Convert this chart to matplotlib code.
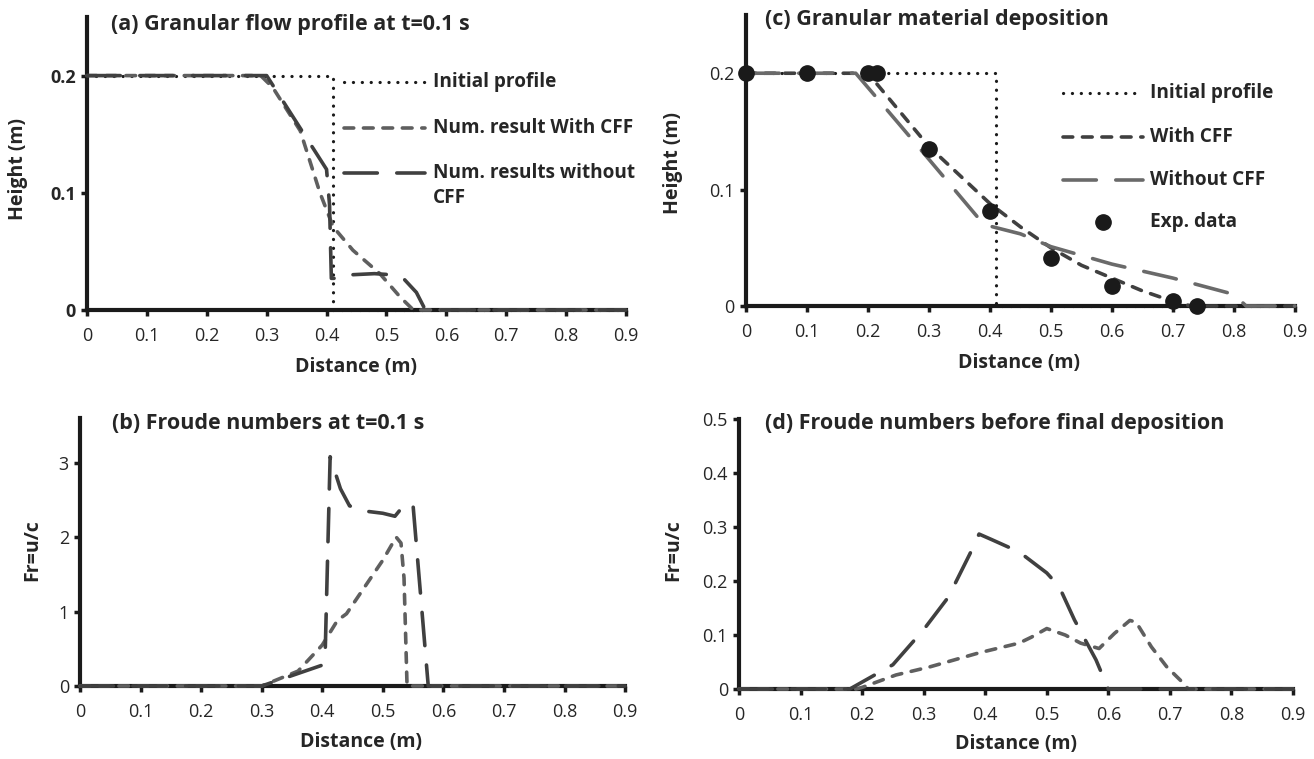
import matplotlib
matplotlib.use('Agg')
import matplotlib.pyplot as plt

plt.rcParams['font.family'] = ['Open Sans', 'DejaVu Sans']
plt.rcParams['lines.scale_dashes'] = False

# ---- (a) profil à t=0.1 s
a_init_x = [0, 0.41, 0.41, 0.9]
a_init_y = [0.2, 0.2, 0, 0]
a_cff_x = [0, 0.29, 0.31, 0.356, 0.389, 0.411, 0.444, 0.489, 0.523, 0.545, 0.9]
a_cff_y = [0.2, 0.2, 0.19, 0.153, 0.1, 0.071, 0.051, 0.031, 0.011, 0, 0]
a_nocff_x = [0, 0.30, 0.40, 0.405, 0.408, 0.42, 0.44, 0.48, 0.51, 0.53, 0.55, 0.565, 0.9]
a_nocff_y = [0.2, 0.2, 0.12, 0.09, 0.027, 0.027, 0.030, 0.031, 0.030, 0.026, 0.015, 0, 0]

# ---- (b) Froude à t=0.1 s
b_cff_x = [0, 0.30, 0.36, 0.40, 0.425, 0.44, 0.47, 0.50, 0.522, 0.53, 0.535, 0.54, 0.9]
b_cff_y = [0, 0, 0.2, 0.55, 0.88, 0.97, 1.33, 1.69, 2.0, 1.92, 1.45, 0, 0]
b_nocff_x = [0, 0.30, 0.40, 0.405, 0.413, 0.43, 0.445, 0.47, 0.50, 0.52, 0.53, 0.54, 0.55, 0.575, 0.9]
b_nocff_y = [0, 0, 0.28, 0.5, 3.08, 2.65, 2.42, 2.35, 2.32, 2.28, 2.38, 2.34, 2.42, 0, 0]

# ---- (c) dépôt final
c_init_x = [0, 0.41, 0.41, 0.9]
c_init_y = [0.2, 0.2, 0, 0]
c_cff_x = [0, 0.2, 0.3, 0.4, 0.45, 0.5, 0.55, 0.6, 0.65, 0.7, 0.73, 0.9]
c_cff_y = [0.2, 0.2, 0.137, 0.088, 0.068, 0.05, 0.035, 0.024, 0.013, 0.004, 0, 0]
c_nocff_x = [0, 0.18, 0.25, 0.3, 0.39, 0.45, 0.5, 0.6, 0.7, 0.8, 0.82, 0.9]
c_nocff_y = [0.2, 0.2, 0.157, 0.126, 0.07, 0.062, 0.051, 0.036, 0.024, 0.01, 0, 0]
c_exp_x = [0, 0.1, 0.2, 0.215, 0.3, 0.4, 0.5, 0.6, 0.7, 0.74]
c_exp_y = [0.2, 0.2, 0.2, 0.2, 0.135, 0.082, 0.041, 0.017, 0.004, 0]

# ---- (d) Froude avant dépôt final
d_cff_x = [0, 0.19, 0.2, 0.255, 0.31, 0.39, 0.455, 0.475, 0.50, 0.53, 0.555, 0.585,
           0.61, 0.635, 0.645, 0.67, 0.695, 0.72, 0.73, 0.9]
d_cff_y = [0, 0, 0.003, 0.026, 0.041, 0.067, 0.085, 0.096, 0.112, 0.1, 0.085, 0.075,
           0.103, 0.127, 0.124, 0.078, 0.041, 0.013, 0, 0]
d_nocff_x = [0, 0.18, 0.25, 0.30, 0.34, 0.375, 0.39, 0.41, 0.455, 0.50, 0.52, 0.545, 0.58, 0.60, 0.9]
d_nocff_y = [0, 0, 0.045, 0.11, 0.17, 0.25, 0.287, 0.277, 0.254, 0.215, 0.19, 0.128, 0.054, 0, 0]

x_ticks = [0, 0.1, 0.2, 0.3, 0.4, 0.5, 0.6, 0.7, 0.8, 0.9]
x_ticklabels = ['0', '0.1', '0.2', '0.3', '0.4', '0.5', '0.6', '0.7', '0.8', '0.9']

LW = 2.6
DOT = dict(dashes=(0.1, 6.3), linewidth=2.3, dash_capstyle='round', color='#1a1a1a')
SHORT = (7.0, 7.0)
LONG = (24.0, 14.0)
TXT = '#262626'
TITLE_FS = 15.5
TICK_FS = 13
LABEL_FS = 14
LEG_FS = 13.7


def style_axes(ax, ymax, yticks, yticklabels, ylabel, bold_ticks=False):
    ax.set_xlim(0, 0.9)
    ax.set_ylim(0, ymax)
    for s in ['top', 'right']:
        ax.spines[s].set_visible(False)
    for s in ['left', 'bottom']:
        ax.spines[s].set_linewidth(3.0)
        ax.spines[s].set_color('#1a1a1a')
    ax.set_xticks(x_ticks)
    ax.set_xticklabels(x_ticklabels)
    ax.set_yticks(yticks)
    ax.set_yticklabels(yticklabels, fontweight='bold' if bold_ticks else 'normal')
    ax.tick_params(axis='both', direction='out', length=4, width=2.5, color='#1a1a1a',
                   labelsize=TICK_FS, labelcolor=TXT)
    ax.tick_params(axis='x', pad=8)
    ax.tick_params(axis='y', pad=4)
    ax.set_xlabel('Distance (m)', fontsize=LABEL_FS, fontweight='bold', color=TXT)
    ax.set_ylabel(ylabel, fontsize=LABEL_FS, fontweight='bold', color=TXT)


def leg_line(ax, x0, x1, y, **kw):
    ax.plot([x0, x1], [y, y], transform=ax.transAxes, clip_on=False, **kw)


fig = plt.figure(figsize=(13.14, 7.59), dpi=100)
ax_a = fig.add_axes([0.0662, 0.5916, 0.4102, 0.3860])
ax_c = fig.add_axes([0.5677, 0.5968, 0.4178, 0.3834])
ax_b = fig.add_axes([0.0609, 0.0962, 0.4148, 0.3531])
ax_d = fig.add_axes([0.5624, 0.0922, 0.4216, 0.3557])

# (a)
ax_a.plot(a_init_x, a_init_y, zorder=3, clip_on=False, **DOT)
ax_a.plot(a_cff_x, a_cff_y, color='#5f5f5f', lw=LW, dashes=SHORT, dash_capstyle='round',
          zorder=3, clip_on=False)
ax_a.plot(a_nocff_x, a_nocff_y, color='#404040', lw=LW, dashes=LONG, dash_capstyle='round',
          zorder=3, clip_on=False)
style_axes(ax_a, 0.25, [0, 0.1, 0.2], ['0', '0.1', '0.2'], 'Height (m)', bold_ticks=True)
ax_a.yaxis.set_label_coords(-0.11, 0.48)
ax_a.xaxis.set_label_coords(0.50, -0.16)
ax_a.text(0.045, 0.975, '(a) Granular flow profile at t=0.1 s', transform=ax_a.transAxes,
          fontsize=TITLE_FS, fontweight='bold', color=TXT, va='center', ha='left')
leg_line(ax_a, 0.477, 0.627, 0.778, **DOT)
leg_line(ax_a, 0.477, 0.627, 0.621, color='#5f5f5f', lw=LW, dashes=SHORT, dash_capstyle='round')
leg_line(ax_a, 0.477, 0.627, 0.468, color='#404040', lw=LW, dashes=LONG, dash_capstyle='round')
for y, s in [(0.778, 'Initial profile'), (0.621, 'Num. result With CFF'),
             (0.468, 'Num. results without'), (0.382, 'CFF')]:
    ax_a.text(0.642, y, s, transform=ax_a.transAxes, fontsize=LEG_FS, fontweight='bold',
              color=TXT, va='center', ha='left')

# (c)
ax_c.plot(c_init_x, c_init_y, zorder=3, clip_on=False, **DOT)
ax_c.plot(c_cff_x, c_cff_y, color='#404040', lw=LW, dashes=SHORT, dash_capstyle='round',
          zorder=3, clip_on=False)
ax_c.plot(c_nocff_x, c_nocff_y, color='#6a6a6a', lw=LW, dashes=LONG, dash_capstyle='round',
          zorder=3, clip_on=False)
ax_c.plot(c_exp_x, c_exp_y, 'o', color='#1a1a1a', ms=11, zorder=4, clip_on=False)
style_axes(ax_c, 0.25, [0, 0.1, 0.2], ['0', '0.1', '0.2'], 'Height (m)')
ax_c.yaxis.set_label_coords(-0.115, 0.49)
ax_c.xaxis.set_label_coords(0.497, -0.16)
ax_c.text(0.035, 0.985, '(c) Granular material deposition', transform=ax_c.transAxes,
          fontsize=TITLE_FS, fontweight='bold', color=TXT, va='center', ha='left')
leg_line(ax_c, 0.577, 0.723, 0.732, **DOT)
leg_line(ax_c, 0.577, 0.723, 0.581, color='#404040', lw=LW, dashes=SHORT, dash_capstyle='round')
leg_line(ax_c, 0.577, 0.723, 0.433, color='#6a6a6a', lw=LW, dashes=LONG, dash_capstyle='round')
ax_c.plot([0.650], [0.289], 'o', color='#1a1a1a', ms=11, transform=ax_c.transAxes, clip_on=False)
for y, s in [(0.732, 'Initial profile'), (0.581, 'With CFF'),
             (0.433, 'Without CFF'), (0.289, 'Exp. data')]:
    ax_c.text(0.736, y, s, transform=ax_c.transAxes, fontsize=LEG_FS, fontweight='bold',
              color=TXT, va='center', ha='left')

# (b)
ax_b.plot(b_cff_x, b_cff_y, color='#5f5f5f', lw=LW, dashes=SHORT, dash_capstyle='round',
          zorder=3, clip_on=False)
ax_b.plot(b_nocff_x, b_nocff_y, color='#404040', lw=LW, dashes=LONG, dash_capstyle='round',
          zorder=3, clip_on=False)
style_axes(ax_b, 3.6, [0, 1, 2, 3], ['0', '1', '2', '3'], 'Fr=u/c')
ax_b.yaxis.set_label_coords(-0.07, 0.507)
ax_b.xaxis.set_label_coords(0.516, -0.17)
ax_b.text(0.059, 0.978, '(b) Froude numbers at t=0.1 s', transform=ax_b.transAxes,
          fontsize=TITLE_FS, fontweight='bold', color=TXT, va='center', ha='left')

# (d)
ax_d.plot(d_cff_x, d_cff_y, color='#5f5f5f', lw=LW, dashes=SHORT, dash_capstyle='round',
          zorder=3, clip_on=False)
ax_d.plot(d_nocff_x, d_nocff_y, color='#404040', lw=LW, dashes=LONG, dash_capstyle='round',
          zorder=3, clip_on=False)
style_axes(ax_d, 0.5, [0, 0.1, 0.2, 0.3, 0.4, 0.5], ['0', '0.1', '0.2', '0.3', '0.4', '0.5'],
           'Fr=u/c')
ax_d.yaxis.set_label_coords(-0.101, 0.515)
ax_d.xaxis.set_label_coords(0.50, -0.165)
ax_d.text(0.047, 0.982, '(d) Froude numbers before final deposition', transform=ax_d.transAxes,
          fontsize=TITLE_FS, fontweight='bold', color=TXT, va='center', ha='left')

fig.savefig('out.png', dpi=100)
